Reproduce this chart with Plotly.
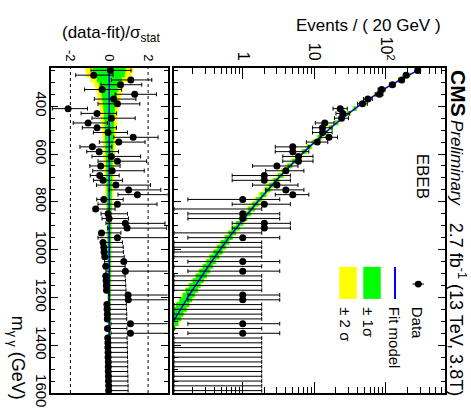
import math
import plotly.graph_objects as go

# ---------------- data ----------------
bin_centers = [250, 270, 290, 310, 330, 350, 370, 390, 410, 430,
               450, 470, 490, 510, 530, 550, 570, 590, 610, 630,
               650, 670, 690, 710, 730, 750, 770, 790, 810, 830,
               850, 870, 890, 910, 930, 950, 970, 990, 1010, 1030,
               1050, 1070, 1090, 1110, 1130, 1150, 1170, 1190, 1210, 1230,
               1250, 1270, 1290, 1310, 1330, 1350, 1370, 1390, 1410, 1430,
               1450, 1470, 1490, 1510, 1530, 1550, 1570, 1590]
bin_width = 20

events = [278, 191, 166, 123, 87, 81, 56, 47, 23, 25,
          24, 14, 13, 13, 16, 11, 5, 5, 6, 6,
          3, 4, 2, 2, 3, 4, 5, 1, 2, 0,
          1, 1, 2, 2, 0, 1, 0, 0, 0, 0,
          1, 0, 1, 0, 0, 0, 0, 1, 1, 0,
          0, 0, 0, 1, 0, 1, 0, 0, 0, 0,
          0, 0, 0, 0, 0, 0, 0, 0]

fit_model = [276.7, 206.1, 155.6, 119.1, 92.3, 72.3, 57.3, 45.8, 37.0, 30.1,
             24.7, 20.4, 17.0, 14.2, 11.9, 10.05, 8.51, 7.24, 6.18, 5.28,
             4.54, 3.92, 3.39, 2.94, 2.56, 2.23, 1.95, 1.71, 1.51, 1.33,
             1.17, 1.04, 0.912, 0.809, 0.719, 0.640, 0.570, 0.509, 0.456, 0.408,
             0.366, 0.330, 0.297, 0.268, 0.242, 0.218, 0.198, 0.179, 0.163, 0.148,
             0.135, 0.122, 0.112, 0.102, 0.0931, 0.0851, 0.0780, 0.0715, 0.0656, 0.0603,
             0.0553, 0.0509, 0.0469, 0.0432, 0.0398, 0.0367, 0.0340, 0.0314]

pull = [0.06, -0.80, 1.11, 0.58, -0.37, 1.31, 0.23, 0.42, -2.12, -0.63,
        0.11, -1.09, -0.63, -0.06, 1.23, 0.49, -0.87, -0.52, 0.11, 0.42,
        -0.44, 0.15, -0.49, -0.32, 0.34, 1.00, 1.45, -0.28, 0.42, -0.70,
        -0.06, -0.01, 0.83, 0.92, -0.40, 0.42, -0.32, -0.28, -0.27, -0.23,
        0.75, -0.18, 0.83, -0.18, -0.16, -0.15, -0.14, 0.97, 0.98, -0.12,
        -0.11, -0.10, -0.10, 1.09, -0.09, 1.09, -0.08, -0.07, -0.07, -0.06,
        -0.06, -0.05, -0.05, -0.05, -0.04, -0.04, -0.03, -0.03]

# fit uncertainty bands, in units of sigma_stat
band_1sigma = [0.85, 0.80, 0.64, 0.52, 0.45, 0.40, 0.36, 0.33, 0.30, 0.28,
               0.26, 0.25, 0.24, 0.23, 0.22, 0.21, 0.20, 0.19, 0.18, 0.17,
               0.16, 0.155, 0.15, 0.145, 0.14, 0.135, 0.13, 0.125, 0.12, 0.115,
               0.11, 0.11, 0.105, 0.105, 0.10, 0.10, 0.10, 0.095, 0.095, 0.095,
               0.09, 0.09, 0.09, 0.09, 0.085, 0.085, 0.085, 0.08, 0.08, 0.08,
               0.08, 0.075, 0.075, 0.075, 0.07, 0.07, 0.07, 0.07, 0.065, 0.065,
               0.065, 0.065, 0.06, 0.06, 0.06, 0.06, 0.06, 0.06]
band_2sigma = [1.24, 1.15, 0.98, 0.78, 0.70, 0.62, 0.57, 0.52, 0.48, 0.45,
               0.42, 0.40, 0.38, 0.37, 0.35, 0.33, 0.31, 0.30, 0.29, 0.28,
               0.27, 0.26, 0.25, 0.24, 0.23, 0.22, 0.21, 0.20, 0.18, 0.16,
               0.15, 0.14, 0.135, 0.13, 0.125, 0.12, 0.12, 0.115, 0.115, 0.11,
               0.11, 0.105, 0.105, 0.10, 0.10, 0.10, 0.095, 0.095, 0.09, 0.09,
               0.09, 0.09, 0.085, 0.085, 0.08, 0.08, 0.08, 0.08, 0.075, 0.075,
               0.075, 0.075, 0.07, 0.07, 0.07, 0.07, 0.07, 0.07]

x_ratio_range = [-3, 3]
x_main_log_range = [-0.96, 2.825]
m_range = [240, 1600]

# ---------------- helpers ----------------
def poisson_errors(n):
    if n == 0:
        return 0.0, 1.841
    lo = n * (1 - 1 / (9 * n) - 1 / (3 * math.sqrt(n))) ** 3
    hi = (n + 1) * (1 - 1 / (9 * (n + 1)) + 1 / (3 * math.sqrt(n + 1))) ** 3
    return n - lo, hi - n

W, H = 471, 419
ML, MR, MT, MB = 51, 26, 68, 16
PW, PH = W - ML - MR, H - MT - MB


def pxx(x):
    return (x - ML) / PW


def pxy(y):
    return (H - MB - y) / PH


FONT = "Liberation Sans, Arial, sans-serif"
YEL, GRN, BLU = "#ffff00", "#00ff00", "#0000ff"
half = bin_width / 2

fig = go.Figure()

# ---------------- ratio panel ----------------
def stair(lo_vals, hi_vals):
    xs, ys = [], []
    for m, v in zip(bin_centers, hi_vals):
        xs += [v, v]
        ys += [m - half, m + half]
    for m, v in zip(reversed(bin_centers), list(reversed(lo_vals))):
        xs += [v, v]
        ys += [m + half, m - half]
    xs.append(xs[0]); ys.append(ys[0])
    return xs, ys

for band, col in ((band_2sigma, YEL), (band_1sigma, GRN)):
    xs, ys = stair([-b for b in band], band)
    fig.add_trace(go.Scatter(x=xs, y=ys, mode="lines", fill="toself", fillcolor=col,
                             line=dict(width=0, color=col), xaxis="x", yaxis="y",
                             hoverinfo="skip", showlegend=False))

fig.add_trace(go.Scatter(x=[0, 0], y=[bin_centers[0] - half, bin_centers[-1] + half],
                         mode="lines", line=dict(color=BLU, width=1.5),
                         xaxis="x", yaxis="y", showlegend=False))

r_minus, r_plus = [], []
for n, p in zip(events, pull):
    lo, hi = poisson_errors(n)
    if n == 0:
        r_minus.append(0.0); r_plus.append(1.0)
    elif p >= 0:
        r_minus.append(1.0); r_plus.append(hi / lo)
    else:
        r_minus.append(lo / hi); r_plus.append(1.0)

fig.add_trace(go.Scatter(x=pull, y=bin_centers, mode="markers",
                         marker=dict(color="black", size=7),
                         error_x=dict(type="data", symmetric=False, array=r_plus,
                                      arrayminus=r_minus, color="black",
                                      thickness=1, width=2),
                         xaxis="x", yaxis="y", showlegend=False))

# ---------------- main panel ----------------
for band, col in ((band_2sigma, YEL), (band_1sigma, GRN)):
    lo_v = [f - b * math.sqrt(f) for f, b in zip(fit_model, band)]
    hi_v = [f + b * math.sqrt(f) for f, b in zip(fit_model, band)]
    xs, ys = stair(lo_v, hi_v)
    fig.add_trace(go.Scatter(x=xs, y=ys, mode="lines", fill="toself", fillcolor=col,
                             line=dict(width=0, color=col), xaxis="x2", yaxis="y2",
                             hoverinfo="skip", showlegend=False))

fig.add_trace(go.Scatter(x=fit_model, y=bin_centers, mode="lines",
                         line=dict(color=BLU, width=1.5),
                         xaxis="x2", yaxis="y2", showlegend=False))

nz_x, nz_y, nz_lo, nz_hi = [], [], [], []
z_x, z_y, z_lo = [], [], []
xmin_val = 10 ** x_main_log_range[0]
for m, n in zip(bin_centers, events):
    lo, hi = poisson_errors(n)
    if n > 0:
        nz_x.append(n); nz_y.append(m); nz_lo.append(lo); nz_hi.append(hi)
    else:
        z_x.append(hi); z_y.append(m); z_lo.append(hi - xmin_val)

fig.add_trace(go.Scatter(x=z_x, y=z_y, mode="markers",
                         marker=dict(color="rgba(0,0,0,0)", size=1),
                         error_x=dict(type="data", symmetric=False, array=[0] * len(z_x),
                                      arrayminus=z_lo, color="black", thickness=1, width=2),
                         xaxis="x2", yaxis="y2", showlegend=False))
fig.add_trace(go.Scatter(x=nz_x, y=nz_y, mode="markers",
                         marker=dict(color="black", size=7),
                         error_x=dict(type="data", symmetric=False, array=nz_hi,
                                      arrayminus=nz_lo, color="black", thickness=1, width=2),
                         xaxis="x2", yaxis="y2", showlegend=False))

# ---------------- axes ----------------
minor_log = [v * s for s in (0.1, 1, 10, 100) for v in range(2, 10)]
common_y = dict(range=[m_range[1], m_range[0]], tickmode="array",
                tickvals=[400, 600, 800, 1000, 1200, 1400, 1600],
                ticks="inside", ticklen=7, tickwidth=1, tickcolor="black",
                minor=dict(dtick=50, ticks="inside", ticklen=4, tickcolor="black"),
                showline=True, linecolor="black", mirror="ticks",
                showgrid=False, zeroline=False)

fig.update_layout(
    width=W, height=H,
    margin=dict(l=ML, r=MR, t=MT, b=MB),
    paper_bgcolor="white", plot_bgcolor="white",
    font=dict(family=FONT, color="black"),
    showlegend=False,
    xaxis=dict(domain=[0, 116.5 / PW], range=x_ratio_range, side="top", anchor="y",
               tickmode="array", tickvals=[-2, 0, 2], ticktext=["-2", "0", "2"],
               tickangle=90, ticks="", showline=True, linecolor="black", linewidth=2,
               mirror=True, showgrid=False, zeroline=False, tickfont=dict(size=13)),
    xaxis2=dict(domain=[123 / PW, 1], type="log", range=x_main_log_range, side="top",
                anchor="y2", tickmode="array", tickvals=[1, 10, 100],
                ticktext=["1", "10", "10<sup>2</sup>"], tickangle=90,
                ticks="inside", ticklen=11, tickwidth=1, tickcolor="black",
                minor=dict(tickmode="array", tickvals=minor_log, ticks="inside",
                           ticklen=6, tickcolor="black"),
                showline=True, linecolor="black", linewidth=1.5, mirror="ticks",
                showgrid=False, zeroline=False, tickfont=dict(size=16)),
    yaxis=dict(anchor="x", tickangle=90, tickfont=dict(size=15), linewidth=2,
               ticklabelstandoff=-5, **common_y),
    yaxis2=dict(anchor="x2", matches="y", showticklabels=False, linewidth=1.5, **common_y),
)

# reference lines at +-2 in the ratio panel
for v in (-2, 2):
    fig.add_shape(type="line", xref="x", yref="y domain", x0=v, x1=v, y0=0, y1=1,
                  line=dict(color="black", width=1, dash="dot"))

# ---------------- legend (drawn by hand, rotated) ----------------
fig.add_shape(type="rect", xref="paper", yref="paper", x0=pxx(339.3), x1=pxx(356.7),
              y0=pxy(306), y1=pxy(273), fillcolor=YEL, line=dict(width=0))
fig.add_shape(type="rect", xref="paper", yref="paper", x0=pxx(363.3), x1=pxx(380.7),
              y0=pxy(306), y1=pxy(273), fillcolor=GRN, line=dict(width=0))
fig.add_shape(type="line", xref="paper", yref="paper", x0=pxx(395), x1=pxx(395),
              y0=pxy(306), y1=pxy(273), line=dict(color=BLU, width=2))
fig.add_shape(type="line", xref="paper", yref="paper", x0=pxx(412.5), x1=pxx(424),
              y0=pxy(290.7), y1=pxy(290.7), line=dict(color="black", width=1))
fig.add_shape(type="circle", xref="paper", yref="paper", x0=pxx(414.8), x1=pxx(421.8),
              y0=pxy(294.2), y1=pxy(287.2), fillcolor="black", line=dict(width=0))

def ann(text, x, y, size, angle=90, xanchor="center", yanchor="middle", **kw):
    fig.add_annotation(text=text, xref="paper", yref="paper", x=pxx(x), y=pxy(y),
                       showarrow=False, textangle=angle, xanchor=xanchor,
                       yanchor=yanchor, font=dict(size=size, family=FONT, color="black"),
                       **kw)

ann("Data", 417, 312, 15, yanchor="top")
ann("Fit model", 394, 312, 15, yanchor="top")
ann("± 1σ", 369, 312, 15, yanchor="top")
ann("± 2 σ", 346, 312, 15, yanchor="top")

ann("<b>CMS</b>", 458.5, 68, 21, yanchor="top")
ann("<i>Preliminary</i>", 456, 119, 17, yanchor="top")
ann("2.7 fb<sup>-1</sup> (13 TeV, 3.8T)", 457, 225, 18, yanchor="top")
ann("EBEB", 422.5, 179.5, 17)

ann("Events / ( 20 GeV )", 443, 24, 17, angle=0, xanchor="right")
ann("(data-fit)/σ<sub>stat</sub>", 110.5, 33, 17, angle=0)
ann("m<sub>γ γ</sub> (GeV)", 16, 412, 18, yanchor="bottom")

fig.write_html("out.html")
